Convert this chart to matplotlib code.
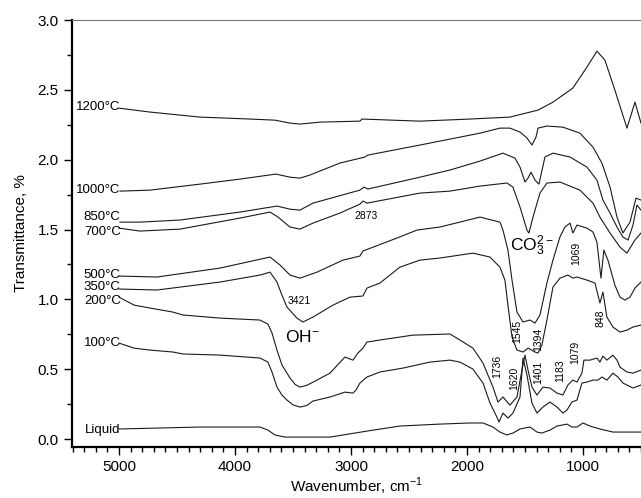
import matplotlib.pyplot as plt
from matplotlib.ticker import MultipleLocator

plt.rcParams['font.family'] = ['Liberation Sans', 'DejaVu Sans']
plt.rcParams['mathtext.fontset'] = 'custom'
plt.rcParams['mathtext.rm'] = 'Liberation Sans'

# FTIR spectra: wavenumber (cm-1) and offset transmittance
liquid_wn = [5000, 4302, 3785, 3716, 3655, 3569, 3181, 2862, 2578, 2233, 1974, 1862, 1776, 1716,
             1656, 1604, 1543, 1457, 1397, 1354, 1285, 1224, 1138, 1095, 1052, 1000, 940, 854,
             742, 621, 500]
liquid_tr = [0.072, 0.086, 0.086, 0.064, 0.029, 0.014, 0.014, 0.057, 0.093, 0.107, 0.115, 0.115,
             0.086, 0.050, 0.029, 0.043, 0.072, 0.086, 0.050, 0.043, 0.064, 0.093, 0.107, 0.086,
             0.086, 0.115, 0.093, 0.072, 0.050, 0.050, 0.050]

t100_wn = [5000, 4870, 4733, 4535, 4448, 4129, 3785, 3716, 3681, 3638, 3595, 3552, 3500, 3440,
           3380, 3328, 3181, 3052, 2983, 2957, 2923, 2862, 2750, 2552, 2319, 2147, 2061, 1949,
           1862, 1802, 1742, 1724, 1690, 1647, 1604, 1543, 1517, 1483, 1440, 1397, 1345, 1285,
           1224, 1173, 1138, 1095, 1052, 1009, 966, 914, 871, 837, 794, 742, 699, 656, 569, 500]
t100_tr = [0.687, 0.651, 0.637, 0.623, 0.609, 0.601, 0.580, 0.551, 0.480, 0.372, 0.315, 0.279,
           0.245, 0.229, 0.240, 0.272, 0.301, 0.336, 0.329, 0.351, 0.401, 0.444, 0.480, 0.508,
           0.551, 0.565, 0.551, 0.501, 0.401, 0.258, 0.157, 0.122, 0.186, 0.150, 0.186, 0.301,
           0.580, 0.458, 0.258, 0.186, 0.229, 0.265, 0.229, 0.186, 0.208, 0.265, 0.279, 0.401,
           0.408, 0.422, 0.422, 0.444, 0.422, 0.472, 0.444, 0.401, 0.365, 0.387]

t200_wn = [5000, 4870, 4733, 4535, 4448, 4129, 3785, 3716, 3681, 3638, 3595, 3526, 3480, 3440,
           3380, 3293, 3181, 3052, 2983, 2940, 2897, 2862, 2750, 2466, 2147, 2061, 1949, 1862,
           1776, 1733, 1690, 1630, 1569, 1526, 1500, 1474, 1440, 1397, 1345, 1285, 1224, 1173,
           1130, 1087, 1052, 1009, 992, 940, 880, 854, 828, 794, 742, 707, 681, 621, 569, 500]
t200_tr = [1.016, 0.959, 0.938, 0.909, 0.888, 0.866, 0.852, 0.823, 0.759, 0.637, 0.530, 0.437,
           0.390, 0.372, 0.385, 0.422, 0.472, 0.587, 0.565, 0.616, 0.651, 0.694, 0.709, 0.744,
           0.752, 0.709, 0.651, 0.544, 0.372, 0.265, 0.301, 0.243, 0.301, 0.494, 0.601, 0.494,
           0.372, 0.315, 0.372, 0.365, 0.329, 0.315, 0.387, 0.422, 0.408, 0.472, 0.565, 0.565,
           0.580, 0.551, 0.594, 0.565, 0.601, 0.565, 0.515, 0.480, 0.472, 0.494]

t350_wn = [5000, 4672, 4129, 3785, 3698, 3638, 3595, 3552, 3466, 3414, 3328, 3155, 3009, 2897,
           2862, 2750, 2578, 2405, 2233, 1949, 1802, 1716, 1673, 1647, 1612, 1569, 1517, 1474,
           1414, 1388, 1354, 1311, 1259, 1199, 1130, 1087, 1052, 966, 897, 854, 828, 794, 742,
           681, 621, 569, 500]
t350_tr = [1.074, 1.067, 1.124, 1.174, 1.195, 1.124, 1.030, 0.945, 0.866, 0.838, 0.873, 0.959,
           1.016, 1.024, 1.081, 1.117, 1.231, 1.281, 1.296, 1.331, 1.303, 1.231, 1.138, 0.959,
           0.730, 0.637, 0.623, 0.651, 0.623, 0.616, 0.673, 0.852, 1.088, 1.152, 1.174, 1.152,
           1.160, 1.138, 1.117, 0.974, 1.052, 0.873, 0.802, 0.766, 0.780, 0.802, 0.816]

t500_wn = [5000, 4672, 4129, 3698, 3612, 3526, 3440, 3293, 3069, 2923, 2897, 2604, 2431, 2233,
           1888, 1716, 1690, 1647, 1612, 1569, 1517, 1457, 1414, 1371, 1311, 1259, 1199, 1156,
           1112, 1087, 1052, 966, 914, 880, 845, 820, 785, 725, 681, 638, 595, 552, 500]
t500_tr = [1.167, 1.160, 1.224, 1.303, 1.246, 1.174, 1.152, 1.195, 1.281, 1.310, 1.346, 1.439,
           1.496, 1.518, 1.589, 1.553, 1.496, 1.353, 1.138, 0.909, 0.838, 0.852, 0.830, 0.888,
           1.117, 1.281, 1.446, 1.518, 1.546, 1.475, 1.532, 1.510, 1.482, 1.410, 1.152, 1.353,
           1.281, 1.102, 1.016, 0.995, 1.016, 1.081, 1.124]

t700_wn = [5000, 4819, 4474, 3957, 3698, 3629, 3526, 3440, 3328, 3095, 2923, 2897, 2862, 2405,
           2147, 1888, 1656, 1604, 1543, 1483, 1466, 1431, 1371, 1311, 1199, 1026, 914, 854,
           767, 681, 621, 552, 500]
t700_tr = [1.510, 1.489, 1.503, 1.582, 1.625, 1.589, 1.518, 1.503, 1.546, 1.618, 1.682, 1.704,
           1.689, 1.761, 1.775, 1.811, 1.833, 1.804, 1.661, 1.496, 1.475, 1.589, 1.761, 1.833,
           1.840, 1.782, 1.689, 1.589, 1.475, 1.374, 1.331, 1.425, 1.475]

t850_wn = [4991, 4819, 4474, 3957, 3638, 3526, 3440, 3328, 2923, 2888, 2854, 2405, 2147, 1888,
           1690, 1586, 1543, 1500, 1474, 1448, 1414, 1380, 1328, 1259, 1112, 966, 880, 828, 767,
           707, 656, 612, 569, 535, 500]
t850_tr = [1.553, 1.553, 1.568, 1.625, 1.668, 1.646, 1.639, 1.689, 1.782, 1.804, 1.790, 1.875,
           1.926, 1.990, 2.047, 2.011, 1.947, 1.840, 1.868, 1.911, 1.854, 1.825, 2.019, 2.047,
           2.019, 1.947, 1.854, 1.711, 1.618, 1.518, 1.446, 1.425, 1.532, 1.675, 1.639]

t1000_wn = [4991, 4733, 4302, 3957, 3647, 3526, 3440, 3354, 3095, 2880, 2854, 2405, 1888, 1716,
            1630, 1543, 1483, 1440, 1405, 1388, 1311, 1173, 1026, 914, 837, 767, 707, 656, 595,
            543, 500]
t1000_tr = [1.775, 1.782, 1.825, 1.861, 1.897, 1.875, 1.868, 1.890, 1.976, 2.019, 2.033, 2.105,
            2.190, 2.226, 2.226, 2.198, 2.155, 2.105, 2.162, 2.226, 2.241, 2.233, 2.190, 2.090,
            1.976, 1.804, 1.589, 1.475, 1.553, 1.725, 1.711]

t1200_wn = [5000, 4733, 4302, 3871, 3655, 3526, 3440, 3267, 2923, 2905, 2405, 1974, 1630, 1388,
            1259, 1087, 966, 880, 811, 725, 621, 552, 500]
t1200_tr = [2.369, 2.341, 2.305, 2.291, 2.283, 2.262, 2.255, 2.269, 2.276, 2.291, 2.276, 2.291,
            2.305, 2.355, 2.412, 2.513, 2.663, 2.777, 2.713, 2.498, 2.226, 2.412, 2.262]

# sample labels at the left end of each trace
temp_labels = ['1200°C', '1000°C', '850°C', '700°C', '500°C', '350°C', '200°C', '100°C', 'Liquid']
temp_label_y = [2.376, 1.782, 1.590, 1.482, 1.178, 1.092, 0.985, 0.687, 0.064]

# band assignments written on the plot
band_text = ['1545', '1394', '1736', '1620', '1401', '1183', '1079', '848', '1069']
band_x = [1569, 1388, 1742, 1595, 1388, 1199, 1069, 845, 1061]
band_y = [0.773, 0.716, 0.523, 0.437, 0.480, 0.487, 0.623, 0.866, 1.331]

fig = plt.figure(figsize=(6.41, 4.98), dpi=100)
ax = fig.add_axes([0.1123, 0.1024, 0.8877, 0.8574])

spectra = [(liquid_wn, liquid_tr), (t100_wn, t100_tr), (t200_wn, t200_tr), (t350_wn, t350_tr),
           (t500_wn, t500_tr), (t700_wn, t700_tr), (t850_wn, t850_tr), (t1000_wn, t1000_tr),
           (t1200_wn, t1200_tr)]
for wn, tr in spectra:
    ax.plot(wn, tr, color='#1a1a1a', lw=0.8)

for lab, yy in zip(temp_labels, temp_label_y):
    ax.text(4985, yy, lab, ha='right', va='center', fontsize=9.5)

for lab, xx, yy in zip(band_text, band_x, band_y):
    ax.text(xx, yy, lab, ha='center', va='center', fontsize=7.5, rotation=90)

ax.text(2871, 1.596, '2873', ha='center', va='center', fontsize=7.5)
ax.text(3448, 0.988, '3421', ha='center', va='center', fontsize=7.5)
ax.text(3420, 0.730, r'$\mathregular{OH^{-}}$', ha='center', va='center', fontsize=12.5)
ax.text(1440, 1.385, r'$\mathregular{CO_3^{2-}}$', ha='center', va='center', fontsize=12.5)

ax.set_xlim(5405, 500)
ax.set_ylim(-0.057, 3.0)
ax.xaxis.set_major_locator(MultipleLocator(1000))
ax.xaxis.set_minor_locator(MultipleLocator(100))
ax.yaxis.set_major_locator(MultipleLocator(0.5))
ax.yaxis.set_minor_locator(MultipleLocator(0.25))
ax.yaxis.set_major_formatter(plt.FormatStrFormatter('%.1f'))
ax.tick_params(which='major', direction='out', length=6, width=1, labelsize=11)
ax.tick_params(which='minor', direction='out', length=3.5, width=1)
ax.tick_params(top=False, right=False)

ax.spines['left'].set_linewidth(1.6)
ax.spines['bottom'].set_linewidth(1.6)
ax.spines['top'].set_linewidth(0.8)
ax.spines['top'].set_color('#777777')
ax.spines['right'].set_visible(False)

ax.set_xlabel(r'Wavenumber, cm$^{\mathregular{-1}}$', fontsize=11, labelpad=1)
ax.set_ylabel('Transmittance, %', fontsize=11)
ax.yaxis.set_label_coords(-0.078, 0.5)

fig.savefig('out.png', dpi=100)
